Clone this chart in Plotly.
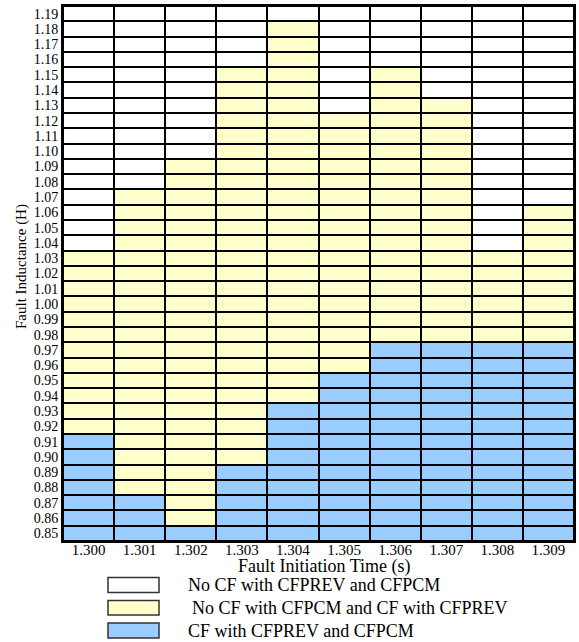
import plotly.graph_objects as go

# ---- data ----
times = ["1.300", "1.301", "1.302", "1.303", "1.304", "1.305", "1.306", "1.307", "1.308", "1.309"]
inductances = ["0.85", "0.86", "0.87", "0.88", "0.89", "0.90", "0.91", "0.92", "0.93", "0.94",
               "0.95", "0.96", "0.97", "0.98", "0.99", "1.00", "1.01", "1.02", "1.03", "1.04",
               "1.05", "1.06", "1.07", "1.08", "1.09", "1.10", "1.11", "1.12", "1.13", "1.14",
               "1.15", "1.16", "1.17", "1.18", "1.19"]
# highest inductance where CF occurs with both CFPREV and CFPCM (blue)
blue_max = ["0.91", "0.87", "0.85", "0.89", "0.93", "0.95", "0.97", "0.97", "0.97", "0.97"]
# highest inductance where CF occurs only with CFPREV (yellow)
yellow_max = ["1.03", "1.07", "1.09", "1.15", "1.18", "1.12", "1.15", "1.13", "1.03", "1.06"]
legend_labels = ["No CF with CFPREV and CFPCM",
                 "No CF with CFPCM and CF with CFPREV",
                 "CF with CFPREV and CFPCM"]
colors = ["#FFFFFF", "#FFFFCC", "#99CCFF"]

# build category matrix: 0 = white, 1 = yellow, 2 = blue
z = []
for yi, yl in enumerate(inductances):
    row = []
    for ci in range(len(times)):
        b = inductances.index(blue_max[ci])
        yv = inductances.index(yellow_max[ci])
        if yi <= b:
            row.append(2)
        elif yi <= yv:
            row.append(1)
        else:
            row.append(0)
    z.append(row)

colorscale = [[0, colors[0]], [0.3333, colors[0]], [0.3334, colors[1]],
              [0.6666, colors[1]], [0.6667, colors[2]], [1, colors[2]]]

fig = go.Figure()
fig.add_trace(go.Heatmap(
    x=times, y=inductances, z=z, zmin=0, zmax=2,
    colorscale=colorscale, showscale=False, xgap=2, ygap=2,
    hoverinfo="skip",
))

W, H = 579, 642
L, R, T, B = 63, 5, 6, 101
pw, ph = W - L - R, H - T - B

fig.update_layout(
    width=W, height=H,
    margin=dict(l=L, r=R, t=T, b=B, autoexpand=False),
    paper_bgcolor="white", plot_bgcolor="black",
    font=dict(family="Liberation Serif", color="black"),
    showlegend=False,
)
fig.update_xaxes(
    type="category", range=[-0.5, len(times) - 0.5], automargin=False,
    tickmode="array", tickvals=times, ticktext=times, ticklabelstandoff=-6,
    showgrid=False, zeroline=False, ticks="", ticklen=0,
    tickfont=dict(size=15), showline=True, linecolor="black", linewidth=2, mirror=True,
)
fig.update_yaxes(
    type="category", range=[-0.5, len(inductances) - 0.5], automargin=False,
    tickmode="array", tickvals=inductances, ticktext=inductances,
    showgrid=False, zeroline=False, ticks="", ticklen=0,
    tickfont=dict(size=14), showline=True, linecolor="black", linewidth=2, mirror=True,
)

def px_x(x):
    return (x - L) / pw

def px_y(y):
    return (H - B - y) / ph

# axis titles
fig.add_annotation(xref="paper", yref="paper", x=px_x(324), y=px_y(566),
                   text="Fault Initiation Time (s)", showarrow=False,
                   xanchor="center", yanchor="middle",
                   font=dict(size=18, family="Liberation Serif", color="black"))
fig.add_annotation(xref="paper", yref="paper", x=px_x(21), y=px_y(267),
                   text="Fault Inductance (H)", showarrow=False, textangle=-90,
                   xanchor="center", yanchor="middle",
                   font=dict(size=15, family="Liberation Serif", color="black"))

# legend drawn as boxes + text below the plot
box_rows = [(577.5, 592.5), (600.5, 615), (623, 638)]
text_x = [186, 190, 186]
for i, (y0, y1) in enumerate(box_rows):
    fig.add_shape(type="rect", xref="paper", yref="paper",
                  x0=px_x(108), x1=px_x(159), y0=px_y(y1), y1=px_y(y0),
                  fillcolor=colors[i], line=dict(color="#333333", width=1.5))
    fig.add_annotation(xref="paper", yref="paper", x=px_x(text_x[i]), y=px_y((y0 + y1) / 2),
                       text=legend_labels[i], showarrow=False, xanchor="left", yanchor="middle",
                       font=dict(size=18, family="Liberation Serif", color="black"))

fig.write_html("out.html", config={"displayModeBar": False},
               post_script="document.body.style.margin='0';document.body.style.overflow='hidden';")
